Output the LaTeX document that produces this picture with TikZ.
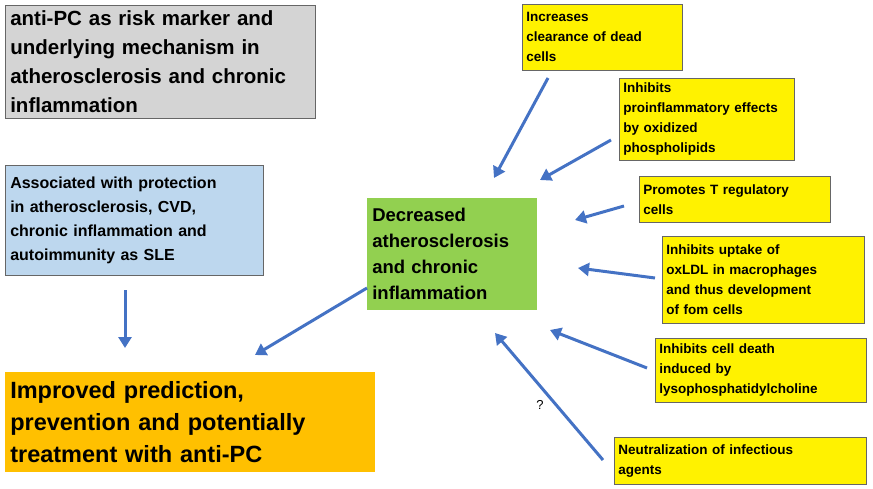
\documentclass[tikz,border=0pt]{standalone}
\usepackage{fontspec}
\setmainfont{Liberation Sans}
\usetikzlibrary{arrows.meta}
\begin{document}
\begin{tikzpicture}[x=1pt,y=-1pt,
 box/.style={draw=black!60,line width=0.6pt,align=left,inner sep=5pt,font=\bfseries},
 ybox/.style={box,fill=yellow,inner sep=4pt,font=\bfseries\fontsize{13.5}{20}\selectfont},
 every node/.style={anchor=north west}]
\useasboundingbox (0,0) rectangle (873,489);
\definecolor{arrc}{HTML}{4472C4}
\tikzset{arr/.style={draw=arrc,color=arrc,line width=3pt,-{Triangle[length=11pt,width=13pt]}}}
\node[box,fill=black!17,minimum width=310,minimum height=113,text width=300,font=\bfseries\fontsize{20.5}{29}\selectfont] (g) at (5,5) {anti-PC as risk marker and\\underlying mechanism in\\atherosclerosis and chronic\\inflammation};
\node[box,fill={rgb,255:red,189;green,215;blue,238},minimum width=258,minimum height=110,text width=248,font=\bfseries\fontsize{16}{24}\selectfont] (b) at (5,165) {Associated with protection\\in atherosclerosis, CVD,\\chronic inflammation and\\autoimmunity as SLE};
\node[box,fill={rgb,255:red,255;green,192;blue,0},draw=none,minimum width=370,minimum height=100,text width=360,font=\bfseries\fontsize{23.5}{32}\selectfont] (o) at (5,372) {Improved prediction,\\prevention and potentially\\treatment with anti-PC};
\node[box,fill={rgb,255:red,146;green,208;blue,80},draw=none,minimum width=170,minimum height=112,text width=160,font=\bfseries\fontsize{18.5}{26}\selectfont] (c) at (367,198) {Decreased\\atherosclerosis\\and chronic\\inflammation};
\node[ybox,minimum width=160,minimum height=66,text width=152] (y1) at (522,4) {Increases\\clearance of dead\\cells};
\node[ybox,minimum width=175,minimum height=82,text width=167] (y2) at (619,78) {Inhibits\\proinflammatory effects\\by oxidized\\phospholipids};
\node[ybox,minimum width=191,minimum height=46,text width=183] (y3) at (639,176) {Promotes T regulatory\\cells};
\node[ybox,minimum width=202,minimum height=87,text width=194] (y4) at (662,236) {Inhibits uptake of\\oxLDL in macrophages\\and thus development\\of fom cells};
\node[ybox,minimum width=211,minimum height=64,text width=203] (y5) at (655,338) {Inhibits cell death\\induced by\\lysophosphatidylcholine};
\node[ybox,minimum width=252,minimum height=47,text width=244] (y6) at (614,437) {Neutralization of infectious\\agents};
\coordinate (a1s) at (548,78); \coordinate (a1e) at (494,178);
\coordinate (a2s) at (611,140); \coordinate (a2e) at (540,180);
\coordinate (a3s) at (624,206); \coordinate (a3e) at (575,220);
\coordinate (a4s) at (655,278); \coordinate (a4e) at (578,268);
\coordinate (a5s) at (647,368); \coordinate (a5e) at (550,330);
\coordinate (a6s) at (603,460); \coordinate (a6e) at (495,333);
\coordinate (a7s) at (367,288); \coordinate (a7e) at (255,355);
\coordinate (a8s) at (125,290); \coordinate (a8e) at (125,348);
\foreach \i in {1,...,8} \draw[arr] (a\i s) -- (a\i e);
\node[anchor=center,font=\fontsize{13}{15}\selectfont] (q) at (540,405) {?};
\end{tikzpicture}
\end{document}
